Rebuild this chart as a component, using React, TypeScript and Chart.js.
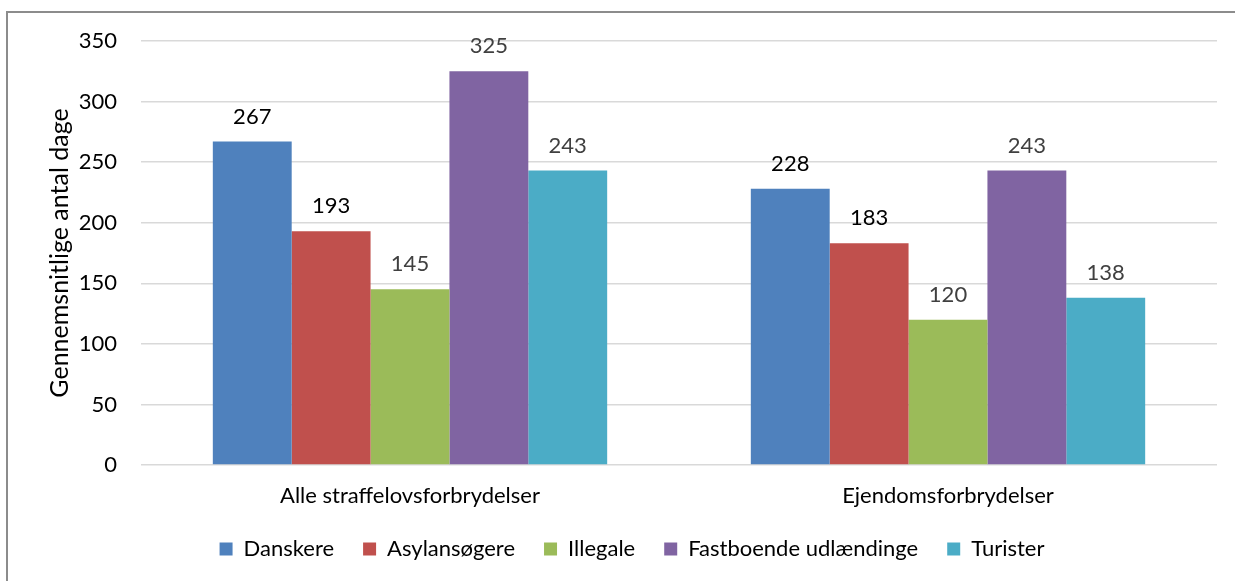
import React, { useEffect, useRef } from "react";
import { Chart, registerables } from "chart.js";

Chart.register(...registerables);

const categories = ["Alle straffelovsforbrydelser", "Ejendomsforbrydelser"];
const seriesNames = ["Danskere", "Asylansøgere", "Illegale", "Fastboende udlændinge", "Turister"];
const danskere = [267, 228];
const asylansoegere = [193, 183];
const illegale = [145, 120];
const fastboende = [325, 243];
const turister = [243, 138];
const yTicks = [0, 50, 100, 150, 200, 250, 300, 350];
const yTitle = "Gennemsnitlige antal dage";

const colors = ["#4F81BD", "#C0504D", "#9BBB59", "#8064A2", "#4BACC6"];
const labelColors = ["#000000", "#000000", "#404040", "#404040", "#404040"];
const FONT = "Lato";
const FS = 22;
const TITLE_FS = 25;

const valueLabels = {
  id: "valueLabels",
  afterDatasetsDraw(chart: any) {
    const ctx = chart.ctx;
    ctx.save();
    ctx.font = `${FS}px ${FONT}`;
    ctx.textAlign = "center";
    ctx.textBaseline = "middle";
    chart.data.datasets.forEach((ds: any, i: number) => {
      const meta = chart.getDatasetMeta(i);
      meta.data.forEach((el: any, j: number) => {
        ctx.fillStyle = labelColors[i];
        ctx.fillText(String(ds.data[j]), el.x, el.y - 25);
      });
    });
    ctx.restore();
  },
};

export default function App() {
  const ref = useRef<HTMLCanvasElement | null>(null);
  useEffect(() => {
    if (!ref.current) return;
    const data = [danskere, asylansoegere, illegale, fastboende, turister];
    const chart = new Chart(ref.current, {
      type: "bar",
      data: {
        labels: categories,
        datasets: seriesNames.map((name, i) => ({
          label: name,
          data: data[i],
          backgroundColor: colors[i],
          borderWidth: 0,
          categoryPercentage: 0.733,
          barPercentage: 1,
        })),
      },
      options: {
        animation: false,
        responsive: false,
        maintainAspectRatio: false,
        layout: { padding: { left: 47, right: 18, top: 41, bottom: 11 } },
        scales: {
          x: {
            grid: { display: false, drawTicks: false },
            border: { display: false },
            ticks: { color: "#000", font: { family: FONT, size: FS }, padding: 18 },
            afterFit: (s: any) => { s.height = 44; },
          },
          y: {
            min: 0,
            max: 350,
            afterBuildTicks: (s: any) => { s.ticks = yTicks.map((v) => ({ value: v })); },
            grid: { color: "#d9d9d9", lineWidth: 1.5, drawTicks: false },
            border: { display: false },
            ticks: { color: "#000", font: { family: FONT, size: FS }, padding: 24 },
            title: { display: true, text: yTitle, color: "#000", font: { family: FONT, size: TITLE_FS }, padding: { top: -2, bottom: 0 } },
            afterFit: (s: any) => { s.width = 94; },
          },
        },
        plugins: {
          legend: {
            position: "bottom",
            labels: { boxWidth: 13, boxHeight: 13, padding: 29, color: "#000", font: { family: FONT, size: FS } },
          },
          tooltip: { enabled: false },
        },
      },
      plugins: [valueLabels],
    });
    return () => chart.destroy();
  }, []);
  return (
    <div style={{ position: "fixed", left: 0, top: 0, width: 1235, height: 581, background: "#fff", overflow: "hidden" }}>
      <div style={{ position: "absolute", left: 6, top: 11, width: 1300, height: 700, borderTop: "2px solid #8c8c8c", borderLeft: "2px solid #8c8c8c" }} />
      <canvas ref={ref} width={1235} height={581} style={{ position: "absolute", left: 0, top: 0 }} />
    </div>
  );
}
